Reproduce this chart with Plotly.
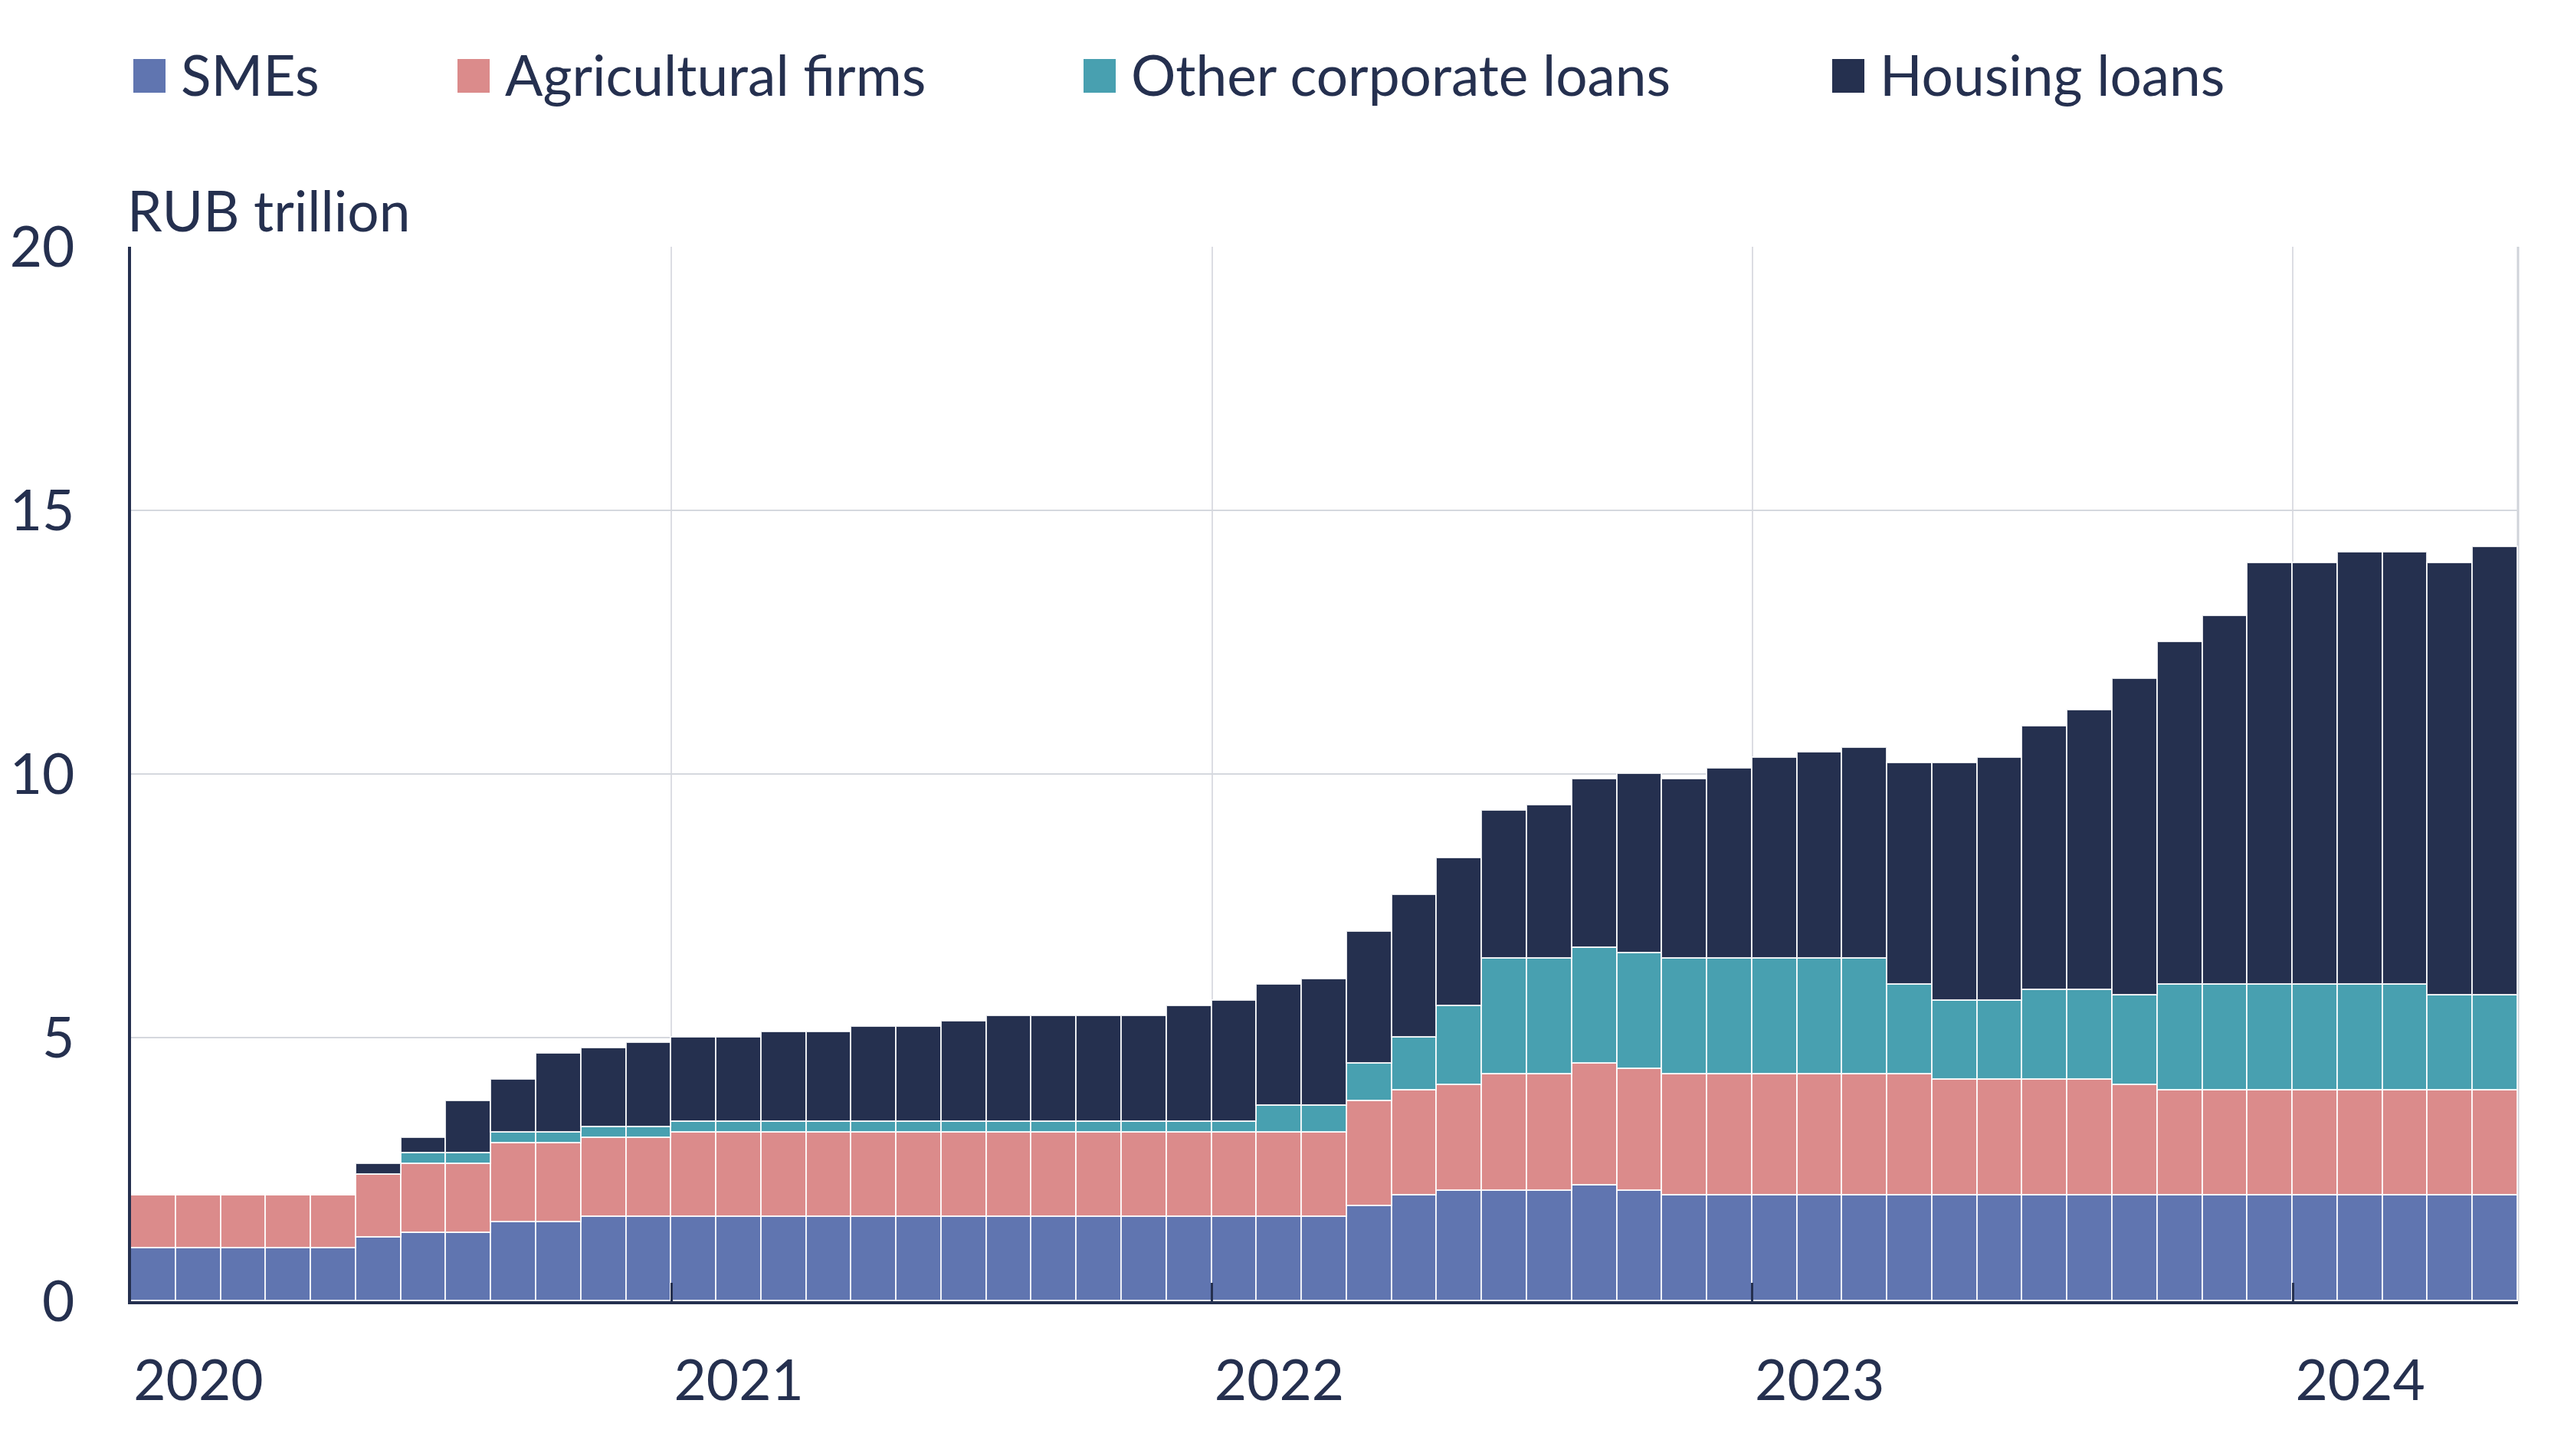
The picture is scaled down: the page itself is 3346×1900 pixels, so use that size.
import numpy as np
import pandas as pd
import plotly.graph_objects as go

# ---- data (RUB trillion), monthly Jan 2020 .. May 2024 ----
months = [p.strftime("%Y-%m") for p in pd.period_range("2020-01", "2024-05", freq="M")]

smes = [1.0, 1.0, 1.0, 1.0, 1.0, 1.2, 1.3, 1.3, 1.5, 1.5, 1.6, 1.6,
        1.6, 1.6, 1.6, 1.6, 1.6, 1.6, 1.6, 1.6, 1.6, 1.6, 1.6, 1.6,
        1.6, 1.6, 1.6, 1.8, 2.0, 2.1, 2.1, 2.1, 2.2, 2.1, 2.0, 2.0,
        2.0, 2.0, 2.0, 2.0, 2.0, 2.0, 2.0, 2.0, 2.0, 2.0, 2.0, 2.0,
        2.0, 2.0, 2.0, 2.0, 2.0]
agri = [1.0, 1.0, 1.0, 1.0, 1.0, 1.2, 1.3, 1.3, 1.5, 1.5, 1.5, 1.5,
        1.6, 1.6, 1.6, 1.6, 1.6, 1.6, 1.6, 1.6, 1.6, 1.6, 1.6, 1.6,
        1.6, 1.6, 1.6, 2.0, 2.0, 2.0, 2.2, 2.2, 2.3, 2.3, 2.3, 2.3,
        2.3, 2.3, 2.3, 2.3, 2.2, 2.2, 2.2, 2.2, 2.1, 2.0, 2.0, 2.0,
        2.0, 2.0, 2.0, 2.0, 2.0]
other = [0.0, 0.0, 0.0, 0.0, 0.0, 0.0, 0.2, 0.2, 0.2, 0.2, 0.2, 0.2,
         0.2, 0.2, 0.2, 0.2, 0.2, 0.2, 0.2, 0.2, 0.2, 0.2, 0.2, 0.2,
         0.2, 0.5, 0.5, 0.7, 1.0, 1.5, 2.2, 2.2, 2.2, 2.2, 2.2, 2.2,
         2.2, 2.2, 2.2, 1.7, 1.5, 1.5, 1.7, 1.7, 1.7, 2.0, 2.0, 2.0,
         2.0, 2.0, 2.0, 1.8, 1.8]
housing = [0.0, 0.0, 0.0, 0.0, 0.0, 0.2, 0.3, 1.0, 1.0, 1.5, 1.5, 1.6,
           1.6, 1.6, 1.7, 1.7, 1.8, 1.8, 1.9, 2.0, 2.0, 2.0, 2.0, 2.2,
           2.3, 2.3, 2.4, 2.5, 2.7, 2.8, 2.8, 2.9, 3.2, 3.4, 3.4, 3.6,
           3.8, 3.9, 4.0, 4.2, 4.5, 4.6, 5.0, 5.3, 6.0, 6.5, 7.0, 8.0,
           8.0, 8.2, 8.2, 8.2, 8.5]

series_names = ["SMEs", "Agricultural firms", "Other corporate loans", "Housing loans"]
series_values = [smes, agri, other, housing]
colors = ["#6075B0", "#DB8B8B", "#48A0B0", "#25304F"]

year_ticks = ["2020", "2021", "2022", "2023", "2024"]
y_ticks = [0, 5, 10, 15, 20]

NAVY = "#25304F"
FONT = "Lato"
FS = 73

# ---- geometry (page pixels; the page body has an 8px margin) ----
PAGE_W, PAGE_H = 3346, 1900
OFF = 8
W, H = PAGE_W - 2 * OFF, PAGE_H - 2 * OFF
PLOT_L, PLOT_R, PLOT_T, PLOT_B = 171, 3286, 322, 1698   # target plot area on page
L = PLOT_L - OFF
T = PLOT_T - OFF
R = (OFF + W) - PLOT_R
B = (OFF + H) - PLOT_B


def px_x(px):
    return (px - PLOT_L) / (PLOT_R - PLOT_L)


def px_y(py):
    return (PLOT_B - py) / (PLOT_B - PLOT_T)


# month index positions (bars centred in their month slot)
idx = np.arange(len(months))
xpos = idx + 0.5
year_pos = [months.index(y + "-01") for y in year_ticks]

fig = go.Figure()
for name, vals, col in zip(series_names, series_values, colors):
    fig.add_trace(go.Bar(
        x=xpos, y=vals, name=name, width=1.0,
        marker=dict(color=col, line=dict(color="rgba(255,255,255,0.85)", width=1.6)),
        showlegend=False,
        customdata=months,
        hovertemplate="%{customdata}: %{y}<extra>" + name + "</extra>",
    ))

fig.update_layout(
    width=W, height=H, autosize=False,
    margin=dict(l=L, r=R, t=T, b=B, pad=0),
    barmode="stack", bargap=0,
    plot_bgcolor="white", paper_bgcolor="white",
    font=dict(family=FONT, size=FS, color=NAVY),
)

fig.update_xaxes(
    range=[0, len(months)], automargin=False,
    tickmode="array", tickvals=year_pos, ticktext=year_ticks,
    ticklabelposition="outside right",
    ticks="inside", ticklen=24, tickwidth=3, tickcolor=NAVY,
    showline=True, linecolor=NAVY, linewidth=3.5,
    showgrid=True, gridcolor="#DCDDE3", gridwidth=1.5,
    zeroline=False,
    ticklabelstandoff=38,
    tickfont=dict(family=FONT, size=FS, color=NAVY),
)
fig.update_yaxes(
    range=[0, 20], tickmode="array", tickvals=y_ticks, automargin=False,
    showline=True, linecolor=NAVY, linewidth=4,
    showgrid=True, gridcolor="#D5D8DE", gridwidth=2,
    zeroline=False, ticks="",
    ticklabelstandoff=55,
    tickfont=dict(family=FONT, size=FS, color=NAVY),
)

# right border of plot area
fig.add_shape(type="line", xref="paper", yref="paper", x0=1, x1=1, y0=0, y1=1,
              line=dict(color="#D0D3DA", width=3), layer="below")

# unit label
fig.add_annotation(text="RUB trillion", xref="paper", yref="paper",
                   x=px_x(164), y=px_y(274), xanchor="left", yanchor="middle",
                   showarrow=False, font=dict(family=FONT, size=FS, color=NAVY))

# legend (manual, large swatches)
legend_left = [174, 597, 1414, 2391]
for name, col, x0 in zip(series_names, colors, legend_left):
    fig.add_shape(type="rect", xref="paper", yref="paper",
                  x0=px_x(x0), x1=px_x(x0 + 42), y0=px_y(121), y1=px_y(77),
                  fillcolor=col, line=dict(width=0))
    fig.add_annotation(text=name, xref="paper", yref="paper",
                       x=px_x(x0 + 60), y=px_y(97), xanchor="left", yanchor="middle",
                       showarrow=False, font=dict(family=FONT, size=FS, color=NAVY))

fig.write_html("out.html")
